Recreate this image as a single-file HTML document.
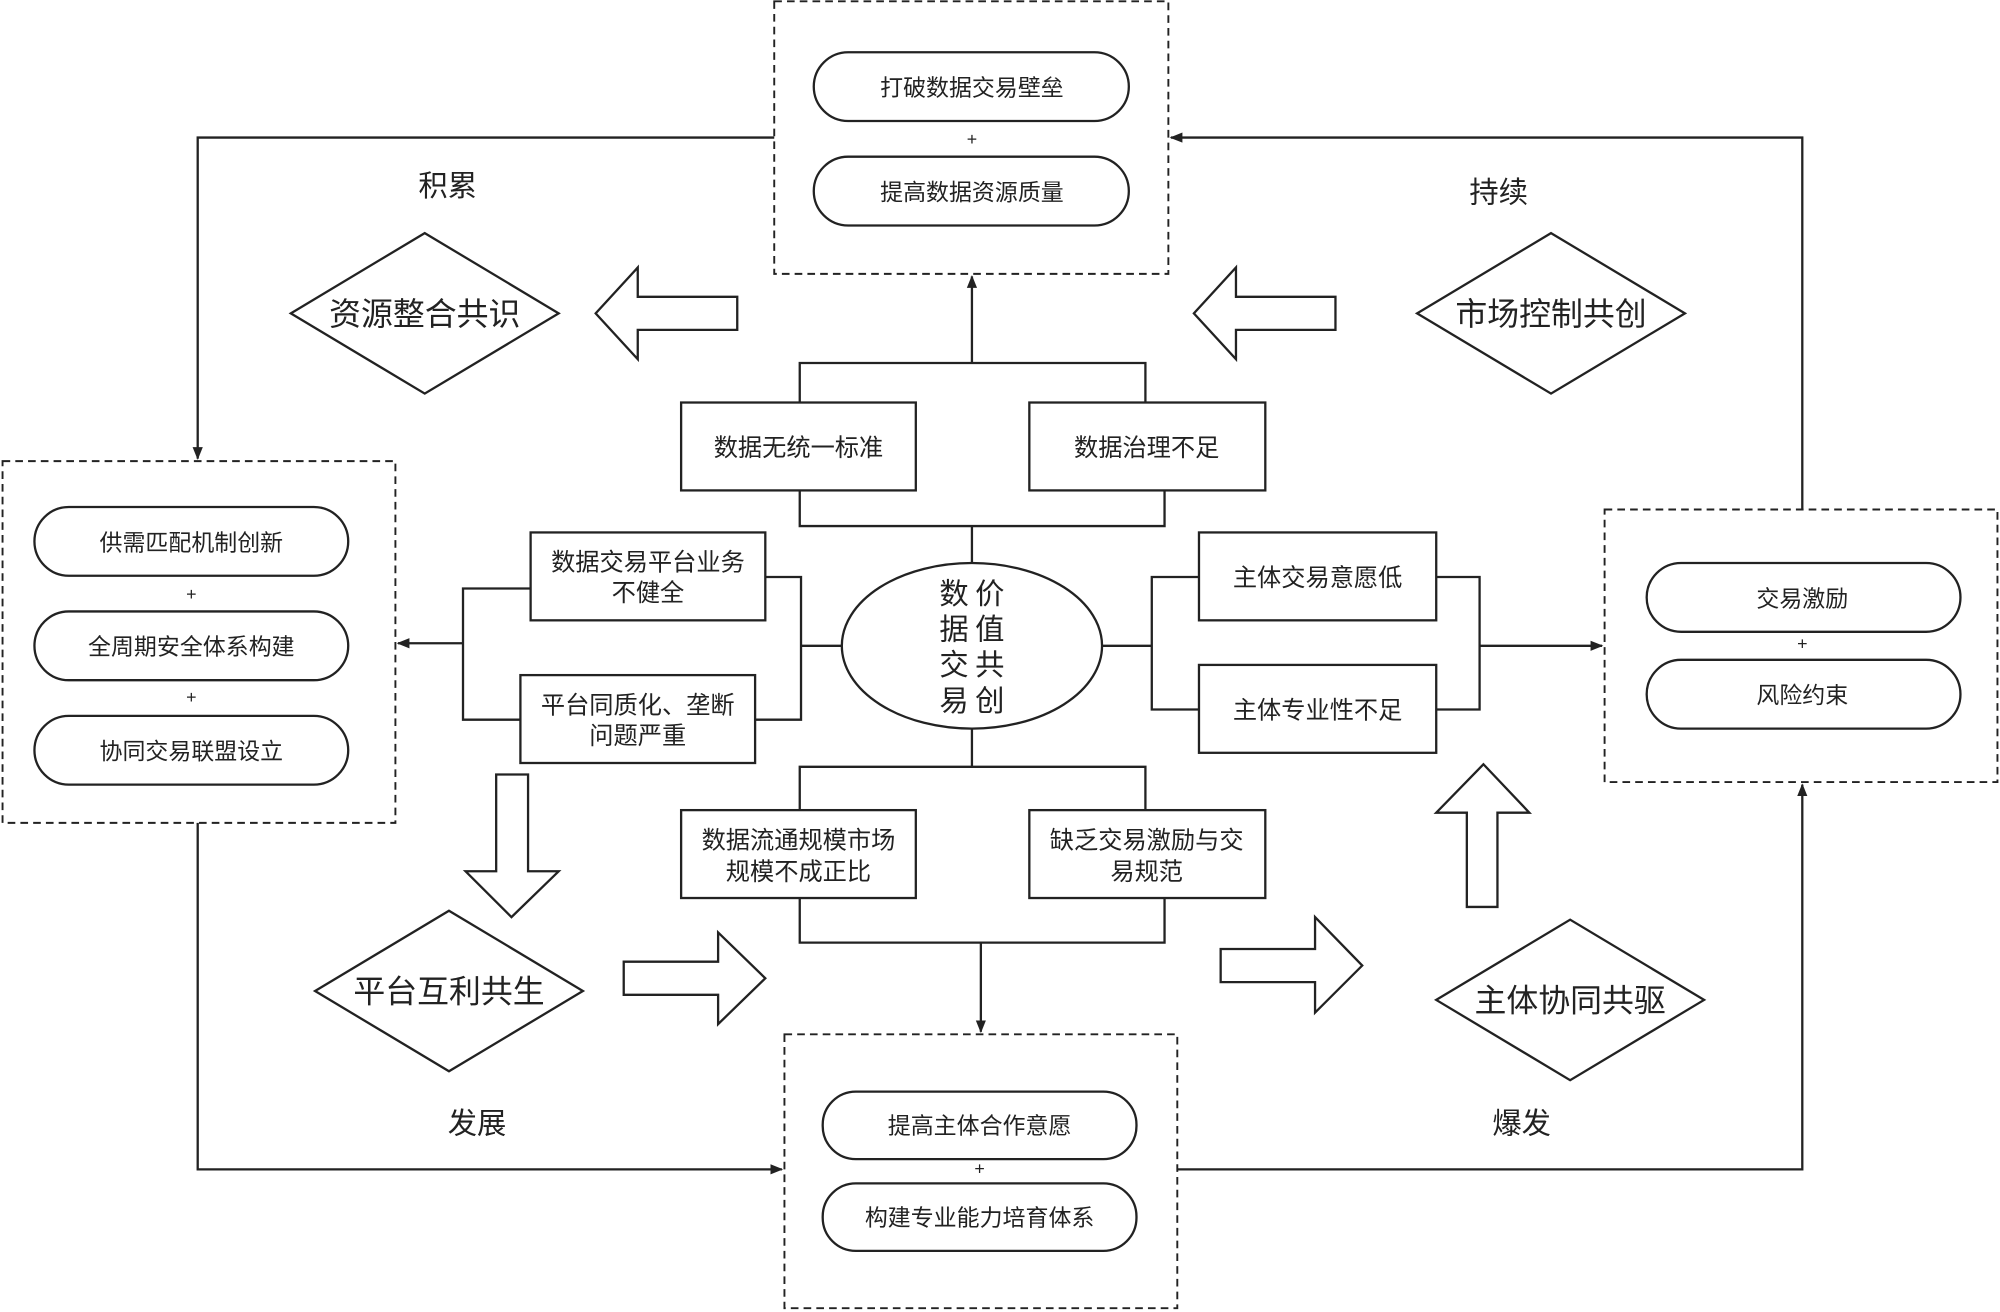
<!DOCTYPE html>
<html><head><meta charset="utf-8"><style>html,body{margin:0;padding:0;background:#fff}svg{display:block}text{font-family:"Liberation Sans","Noto Sans CJK SC",sans-serif;fill:#222}</style></head><body>
<svg width="2000" height="1312" viewBox="0 0 1568 1030" preserveAspectRatio="none" xmlns="http://www.w3.org/2000/svg">
<defs><marker id="a" markerWidth="10" markerHeight="10" refX="9" refY="5" orient="auto" markerUnits="userSpaceOnUse"><path d="M0,1 L10,5 L0,9 Z" fill="#222"/></marker></defs>
<g stroke="#222" stroke-width="1.8" fill="none">
<g stroke-dasharray="6,4" stroke-width="1.5">
<rect x="607" y="1" width="309" height="214"/><rect x="2" y="362" width="308" height="284"/><rect x="1258" y="400" width="308" height="214"/><rect x="615" y="812" width="308" height="215"/></g>
<rect x="638" y="41" width="247" height="54" rx="27"/><rect x="638" y="123" width="247" height="54" rx="27"/>
<rect x="27" y="398" width="246" height="54" rx="27"/><rect x="27" y="480" width="246" height="54" rx="27"/><rect x="27" y="562" width="246" height="54" rx="27"/>
<rect x="1291" y="442" width="246" height="54" rx="27"/><rect x="1291" y="518" width="246" height="54" rx="27"/>
<rect x="645" y="857" width="246" height="53" rx="26"/><rect x="645" y="929" width="246" height="53" rx="26"/>
<ellipse cx="762" cy="507" rx="102" ry="65"/>
<rect x="534" y="316" width="184" height="69"/><rect x="807" y="316" width="185" height="69"/>
<rect x="416" y="418" width="184" height="69"/><rect x="408" y="530" width="184" height="69"/>
<rect x="940" y="418" width="186" height="69"/><rect x="940" y="522" width="186" height="69"/>
<rect x="534" y="636" width="184" height="69"/><rect x="807" y="636" width="185" height="69"/>
<path d="M627 316V285H898V316M627 385V413H913V385M762 413V442"/>
<path d="M762 285V217" marker-end="url(#a)"/>
<path d="M600 453H628V565H592M628 507H660M416 462H363V565H408"/>
<path d="M363 505H312" marker-end="url(#a)"/>
<path d="M864 507H903M940 453H903V557H940M1126 453H1160V557H1126"/>
<path d="M1160 507H1256" marker-end="url(#a)"/>
<path d="M762 572V602M627 636V602H898V636M627 705V740H913V705"/>
<path d="M769 740V810" marker-end="url(#a)"/>
<path d="M607 108H155V360" marker-end="url(#a)"/>
<path d="M155 646V918H613" marker-end="url(#a)"/>
<path d="M923 918H1413V616" marker-end="url(#a)"/>
<path d="M1413 400V108H918" marker-end="url(#a)"/>
<path d="M333 183L438 246L333 309L228 246Z"/><path d="M1216 183L1321 246L1216 309L1111 246Z"/>
<path d="M352 715L457 778L352 841L247 778Z"/><path d="M1231 722L1336 785L1231 848L1126 785Z"/>
<path d="M578 233H500V210L467 246L500 282V259H578Z"/>
<path d="M1047 233H969V210L936 246L969 282V259H1047Z"/>
<path d="M389 608H414V684H438L401 720L365 684H389Z"/>
<path d="M489 755H563V732L600 768L563 804V781H489Z"/>
<path d="M957 745H1031V720L1068 758L1031 795V771H957Z"/>
<path d="M1150 712V638H1126L1163 600L1199 638H1174V712Z"/>
</g>
<g font-size="18" text-anchor="middle">
<text x="762" y="75">打破数据交易壁垒</text><text x="762" y="157">提高数据资源质量</text>
<text x="150" y="432">供需匹配机制创新</text><text x="150" y="514">全周期安全体系构建</text><text x="150" y="596">协同交易联盟设立</text>
<text x="1413" y="476">交易激励</text><text x="1413" y="552">风险约束</text>
<text x="768" y="890">提高主体合作意愿</text><text x="768" y="962">构建专业能力培育体系</text>
<g font-size="14"><text x="762" y="114">+</text><text x="150" y="471">+</text><text x="150" y="552">+</text><text x="1413" y="510">+</text><text x="768" y="922">+</text></g>
<g font-size="19">
<text x="626" y="358">数据无统一标准</text><text x="899" y="358">数据治理不足</text>
<text x="508" y="448">数据交易平台业务</text><text x="508" y="472">不健全</text>
<text x="500" y="560">平台同质化、垄断</text><text x="500" y="584">问题严重</text>
<text x="1033" y="460">主体交易意愿低</text><text x="1033" y="564">主体专业性不足</text>
<text x="626" y="666">数据流通规模市场</text><text x="626" y="691">规模不成正比</text>
<text x="899" y="666">缺乏交易激励与交</text><text x="899" y="691">易规范</text></g>
<g font-size="23"><text x="748" y="474">数</text><text x="776" y="474">价</text><text x="748" y="502">据</text><text x="776" y="502">值</text><text x="748" y="530">交</text><text x="776" y="530">共</text><text x="748" y="558">易</text><text x="776" y="558">创</text></g>
<g font-size="25"><text x="333" y="255">资源整合共识</text><text x="1216" y="255">市场控制共创</text><text x="352" y="787">平台互利共生</text><text x="1231" y="794">主体协同共驱</text></g>
<g font-size="23"><text x="351" y="154">积累</text><text x="1175" y="159">持续</text><text x="374" y="890">发展</text><text x="1193" y="890">爆发</text></g>
</g>
</svg>
</body></html>
